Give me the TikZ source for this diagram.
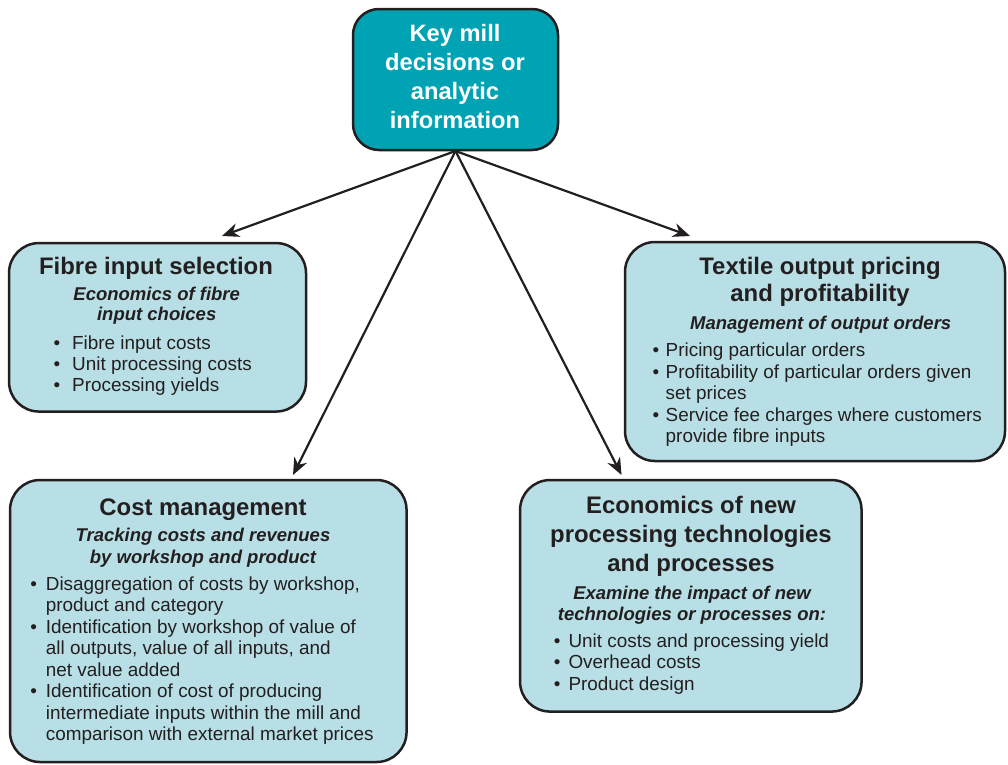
\documentclass[tikz,border=0pt]{standalone}
\usepackage{fontspec}
\setmainfont{Liberation Sans}
\usetikzlibrary{arrows.meta}
\definecolor{teal1}{HTML}{00A3B4}
\definecolor{lblue}{HTML}{B8DFE5}
\definecolor{ink}{HTML}{231F20}
\tikzset{
  topbox/.style={draw=ink, fill=teal1, line width=2.5pt, rounded corners=26pt, inner sep=0pt},
  lbox/.style={draw=ink, fill=lblue, line width=2.5pt, rounded corners=30pt, inner sep=0pt},
  toptxt/.style={text=white, font=\bfseries\fontsize{23.7}{28}\selectfont, anchor=base, inner sep=0pt},
  ttl/.style={text=ink, font=\bfseries\fontsize{23.9}{28}\selectfont, anchor=base, inner sep=0pt},
  sub/.style={text=ink, font=\bfseries\itshape\fontsize{18.5}{21}\selectfont, anchor=base, inner sep=0pt},
  txt/.style={text=ink, font=\fontsize{18.9}{21}\selectfont, anchor=base west, inner sep=0pt},
  bul/.style={text=ink, font=\fontsize{18.9}{21}\selectfont, anchor=base, inner sep=0pt},
  arr/.style={draw=ink, line width=2.2pt, -{Stealth[length=17pt,width=14pt,inset=5.5pt]}}
}
\begin{document}
\begin{tikzpicture}[x=1pt,y=-1pt]
\useasboundingbox (0,0) rectangle (1008,764);
% boxes
\node[topbox, minimum width=205pt, minimum height=141pt] (top) at (455.5,79.5) {};
\node[lbox, minimum width=297pt, minimum height=168.5pt] (fibre) at (157.5,327.3) {};
\node[lbox, minimum width=380pt, minimum height=219pt] (textile) at (815,351.5) {};
\node[lbox, minimum width=396.5pt, minimum height=282pt] (cost) at (208.3,621) {};
\node[lbox, minimum width=341.5pt, minimum height=231.5pt] (econ) at (690.8,595.8) {};
% top text
\node[toptxt] (t1) at (455,41) {Key mill};
\node[toptxt] (t2) at (455,70) {decisions or};
\node[toptxt] (t3) at (455,99.5) {analytic};
\node[toptxt] (t4) at (455,128.5) {information};
% fibre
\node[ttl] (f1) at (156,274.3) {Fibre input selection};
\node[sub] (f2) at (156.7,300.7) {Economics of fibre};
\node[sub] (f3) at (156.7,320.7) {input choices};
\node[bul] (fb1) at (57,349.3) {•};
\node[txt] (f4) at (72,349.3) {Fibre input costs};
\node[bul] (fb2) at (57,370) {•};
\node[txt] (f5) at (72,370) {Unit processing costs};
\node[bul] (fb3) at (57,391) {•};
\node[txt] (f6) at (72,391) {Processing yields};
% textile
\node[ttl] (x1) at (820,274.3) {Textile output pricing};
\node[ttl] (x2) at (820,301.5) {and profitability};
\node[sub] (x3) at (820.7,329) {Management of output orders};
\node[bul] (xb1) at (656,356.7) {•};
\node[txt] (x4) at (665.5,356.7) {Pricing particular orders};
\node[bul] (xb2) at (656,378.2) {•};
\node[txt] (x5) at (665.5,378.2) {Profitability of particular orders given};
\node[txt] (x6) at (665.5,399.6) {set prices};
\node[bul] (xb3) at (656,421) {•};
\node[txt] (x7) at (665.5,421) {Service fee charges where customers};
\node[txt] (x8) at (665.5,442.4) {provide fibre inputs};
% cost
\node[ttl] (c1) at (203,515.7) {Cost management};
\node[sub] (c2) at (203,541.7) {Tracking costs and revenues};
\node[sub] (c3) at (203,563.3) {by workshop and product};
\node[bul] (cb1) at (33.8,590) {•};
\node[txt] (c4) at (45.7,590) {Disaggregation of costs by workshop,};
\node[txt] (c5) at (45.7,611.5) {product and category};
\node[bul] (cb2) at (33.8,633) {•};
\node[txt] (c6) at (45.7,633) {Identification by workshop of value of};
\node[txt] (c7) at (45.7,654.5) {all outputs, value of all inputs, and};
\node[txt] (c8) at (45.7,676) {net value added};
\node[bul] (cb3) at (33.8,697.5) {•};
\node[txt] (c9) at (45.7,697.5) {Identification of cost of producing};
\node[txt] (c10) at (45.7,719) {intermediate inputs within the mill and};
\node[txt] (c11) at (45.7,740.5) {comparison with external market prices};
% econ
\node[ttl] (e1) at (691,513.3) {Economics of new};
\node[ttl] (e2) at (691,542) {processing technologies};
\node[ttl] (e3) at (691,571) {and processes};
\node[sub] (e4) at (692,599) {Examine the impact of new};
\node[sub] (e5) at (692,620) {technologies or processes on:};
\node[bul] (eb1) at (557.2,647.3) {•};
\node[txt] (e6) at (568.3,647.3) {Unit costs and processing yield};
\node[bul] (eb2) at (557.2,668.5) {•};
\node[txt] (e7) at (568.3,668.5) {Overhead costs};
\node[bul] (eb3) at (557.2,690) {•};
\node[txt] (e8) at (568.3,690) {Product design};
% arrow targets
\coordinate (toF) at (222,236);
\coordinate (toX) at (690,236);
\coordinate (toC) at (293,475);
\coordinate (toE) at (621.5,475);
\coordinate (src) at (455.5,151);
\draw[arr] (src) -- (toF);
\draw[arr] (src) -- (toX);
\draw[arr] (src) -- (toC);
\draw[arr] (src) -- (toE);
\end{tikzpicture}
\end{document}
